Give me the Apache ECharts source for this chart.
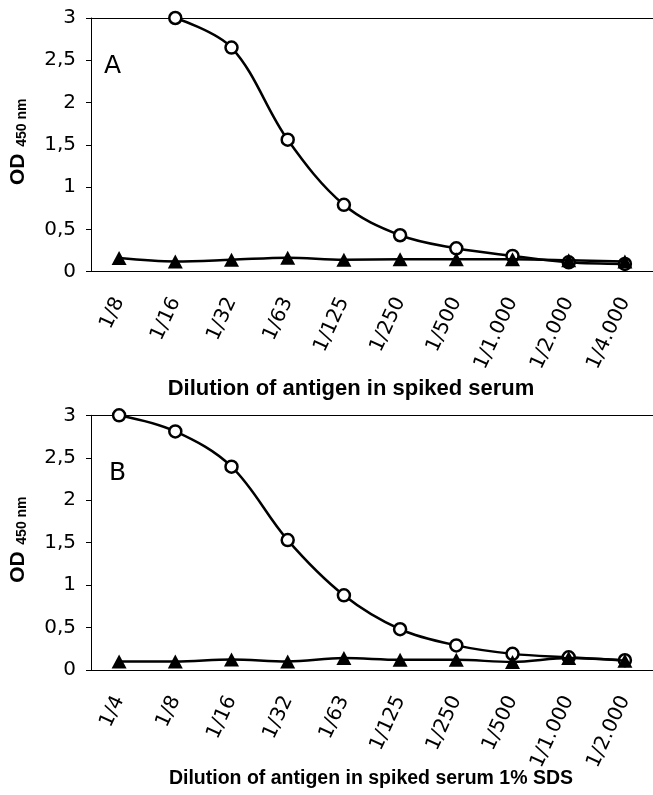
<!DOCTYPE html>
<html>
<head>
<meta charset="utf-8">
<script src="https://cdn.jsdelivr.net/npm/echarts@6/dist/echarts.min.js"></script>
<style>
  html, body { margin: 0; padding: 0; background: #fff; }
  #echarts_id { width: 653px; height: 795px; }
</style>
</head>
<body>
<div id="echarts_id"></div>
<script>
// dilution categories, panel A and B
var catsA = ['1/8', '1/16', '1/32', '1/63', '1/125', '1/250', '1/500', '1/1.000', '1/2.000', '1/4.000'];
var catsB = ['1/4', '1/8', '1/16', '1/32', '1/63', '1/125', '1/250', '1/500', '1/1.000', '1/2.000'];

// OD 450 nm, circles = spiked serum, triangles = control
var circleA = [null, 3.0, 2.65, 1.56, 0.79, 0.43, 0.275, 0.185, 0.11, 0.09];
var triA = [0.16, 0.12, 0.14, 0.165, 0.14, 0.145, 0.145, 0.145, 0.135, 0.12];
var circleB = [3.0, 2.81, 2.395, 1.53, 0.88, 0.48, 0.29, 0.19, 0.15, 0.115];
var triB = [0.10, 0.10, 0.125, 0.10, 0.14, 0.12, 0.12, 0.095, 0.14, 0.11];

var yTicks = [0, 0.5, 1, 1.5, 2, 2.5, 3];

var myChart = echarts.init(document.getElementById('echarts_id'));

var tickFont = 'DejaVu Sans';
var boldFont = 'Liberation Sans, Arial, sans-serif';

function xAxes(cats, gi) {
    return [{
        // main axis with boundary ticks and rotated labels
        type: 'category', gridIndex: gi, position: 'bottom', data: cats,
        axisLine: { lineStyle: { color: '#000', width: 1 } },
        axisTick: { length: 7, lineStyle: { color: '#000' } },
        axisLabel: { rotate: 65, margin: 27, color: '#000', fontSize: 20, fontFamily: tickFont, interval: 0 },
        splitLine: { show: false }
    }, {
        // small inner ticks at the points
        type: 'category', gridIndex: gi, position: 'bottom', data: cats,
        axisLine: { show: false },
        axisTick: { alignWithLabel: true, inside: true, length: 5, lineStyle: { color: '#000' } },
        axisLabel: { show: false }
    }, {
        // line across the top at 3
        type: 'category', gridIndex: gi, position: 'top', data: cats,
        axisLine: { lineStyle: { color: '#000', width: 1 } },
        axisTick: { show: false },
        axisLabel: { show: false }
    }];
}

function yAxis(gi) {
    return {
        type: 'value', gridIndex: gi, min: yTicks[0], max: yTicks[yTicks.length - 1], interval: 0.5,
        name: '{a|OD}  {b|450 nm}', nameLocation: 'middle', nameGap: 62,
        nameTextStyle: {
            padding: [0, 0, 0, 6],
            rich: {
                a: { fontSize: 21, fontWeight: 'bold', fontFamily: boldFont, color: '#000', lineHeight: 21 },
                b: { fontSize: 14, fontWeight: 'bold', fontFamily: boldFont, color: '#000', lineHeight: 14, verticalAlign: 'bottom' }
            }
        },
        axisLine: { show: true, lineStyle: { color: '#000', width: 1 } },
        axisTick: { show: true, length: 5, lineStyle: { color: '#000' } },
        axisLabel: {
            margin: 15, color: '#000', fontSize: 20, fontFamily: tickFont,
            formatter: function (v) { return String(v).replace('.', ','); }
        },
        splitLine: { show: false }
    };
}

function lines(circ, tri, xi, yi) {
    return [{
        type: 'line', xAxisIndex: xi, yAxisIndex: yi, data: circ, smooth: 0.35,
        symbol: 'circle', symbolSize: 12,
        lineStyle: { color: '#000', width: 2.5 },
        itemStyle: { color: '#fff', borderColor: '#000', borderWidth: 2.5 },
        z: 2
    }, {
        type: 'line', xAxisIndex: xi, yAxisIndex: yi, data: tri, smooth: 0.35,
        symbol: 'triangle', symbolSize: [15, 14],
        lineStyle: { color: '#000', width: 2.5 },
        itemStyle: { color: '#000' },
        z: 3
    }];
}

option = {
    backgroundColor: '#fff',
    animation: false,
    grid: [
        { left: 90, top: 18, width: 570, height: 253.6 },
        { left: 90, top: 415.3, width: 570, height: 254.7 }
    ],
    xAxis: xAxes(catsA, 0).concat(xAxes(catsB, 1)),
    yAxis: [yAxis(0), yAxis(1)],
    series: lines(circleA, triA, 0, 0).concat(lines(circleB, triB, 3, 1)),
    graphic: [
        { type: 'text', left: 104, top: 54, style: { text: 'A', fontSize: 25, fontFamily: tickFont, fill: '#000' } },
        { type: 'text', left: 109, top: 461, style: { text: 'B', fontSize: 25, fontFamily: tickFont, fill: '#000' } },
        { type: 'text', x: 351, y: 389, style: { text: 'Dilution of antigen in spiked serum', fontSize: 22, fontWeight: 'bold', fontFamily: boldFont, fill: '#000', align: 'center', verticalAlign: 'middle' } },
        { type: 'text', x: 371, y: 779, style: { text: 'Dilution of antigen in spiked serum 1% SDS', fontSize: 19.5, fontWeight: 'bold', fontFamily: boldFont, fill: '#000', align: 'center', verticalAlign: 'middle' } }
    ]
};

myChart.setOption(option);
</script>
</body>
</html>
